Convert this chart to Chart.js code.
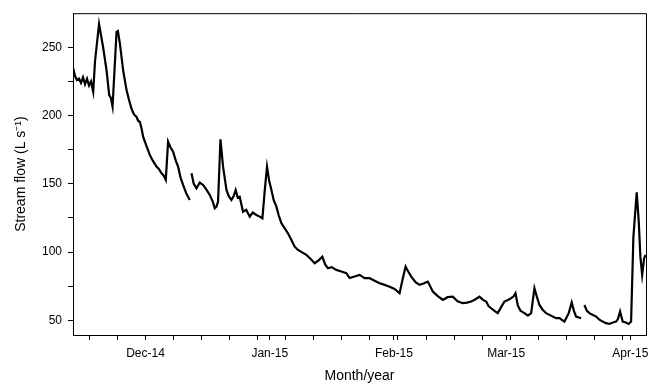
<!DOCTYPE html>
<html lang="en">
<head>
<meta charset="UTF-8">
<title>Stream flow</title>
<script src="https://cdn.jsdelivr.net/npm/chart.js"></script>
<style>
  html, body { margin: 0; padding: 0; background: #fff; }
</style>
</head>
<body>
<canvas id="myChart" width="659" height="387"></canvas>
<script>
// x = days since 1 Dec 2014 (negative = November), y = stream flow (L/s)
// null = gap in the record
const days = [
  -18.05, -17.6, -17.1, -16.6, -16.1, -15.6, -15.1, -14.6, -14.1, -13.6, -13.06,
  -12.6, -11.6, -10.6, -9.72, -9.07, -8.65, -8.23, -7.23, -6.9, -6.41, -5.58,
  -4.74, -4.16, -3.49, -2.92, -2.24, -1.8, -1.42, -1.0, -0.6, 0.2, 1.07, 1.82,
  2.74, 3.32, 3.99, 4.56, 5.06, 5.63, 6.18, 6.88, 7.55, 8.13, 8.8, 9.37, 10.17,
  11.04, 11.3, 11.47, 12.04, 12.71, 13.54, 14.36, 15.16, 16.03, 16.78, 17.28,
  17.7, 18.1, 18.7, 19.35, 20.2, 20.77, 21.44, 22.0, 22.5, 23.0, 23.5, 24.33,
  25.13, 26.0, 26.75, 27.67, 28.5, 29.17, 29.75, 30.32, 30.87, 31.42, 31.99,
  32.67, 33.23, 33.91, 34.73, 35.55, 36.4, 37.23, 38.05, 38.97, 40.14, 41.22,
  42.22, 43.2, 44.13, 44.83, 45.53, 46.45, 47.62, 48.69, 50.11, 50.93, 52.18,
  53.43, 54.67, 55.92, 57.17, 58.4, 59.66, 60.91, 62.16, 63.4, 64.15, 64.9,
  65.52, 66.32, 67.39, 68.39, 69.39, 70.45, 71.7, 72.87, 74.2, 75.37, 76.7,
  77.87, 79.19, 80.24, 81.28, 82.36, 83.35, 84.22, 85.02, 85.59, 86.26, 87.09,
  87.91, 88.71, 89.58, 90.46, 91.25, 91.83, 92.33, 92.9, 93.57, 94.57, 95.44,
  96.24, 97.06, 97.69, 98.31, 99.06, 99.98, 101.18, 102.47, 103.3, 104.54,
  105.62, 106.36, 106.91, 107.46, 108.7, 109.0, 109.53, 110.15, 110.78, 111.65,
  112.45, 113.27, 114.09, 114.89, 115.76, 116.64, 117.44, 117.89, 118.43,
  119.08, 119.88, 120.58, 121.18, 121.75, 122.58, 123.07, 123.5, 123.94,
  124.43, 124.8
];
const flow = [
  234.6, 229, 226, 227, 224, 228, 223, 227, 222, 225, 217.5,
  240, 267, 250.4, 233, 215, 213, 206.5, 261.4, 262, 253, 233,
  218.7, 212, 205, 201, 199, 196, 195.5, 190.7, 184.6, 178, 171.2, 167,
  162.6, 161, 157.8, 156, 152.9, 180.9, 177, 173.6, 167, 162.6, 154, 149.2, 143,
  138.2, null, 157.8, 150, 146.8, 151, 149.2, 146, 141.9, 137, 132.1,
  133.3, 137, 182.6, 162.6, 145.5, 141, 138.2, 141, 145.5, 140, 140.6, 129.6,
  131, 126, 129, 127.2, 126, 124.8, 145, 162.6, 152, 145.5, 138,
  133.3, 127, 121.2, 117.5, 113.8, 108.9, 104, 101.6, 100, 98, 95,
  91.9, 94, 96.7, 91, 88.2, 89, 87, 86, 84.6, 81, 82.1,
  83.3, 81, 80.9, 79, 77.2, 76, 74.7, 73, 69.9, 80, 89.4,
  86, 82.1, 78, 76, 77, 78.4, 71.1, 68, 65, 67, 67.4,
  64, 62.6, 63, 63.8, 65.5, 67.4, 65, 63.8, 60.5, 58.9, 57,
  55.3, 59.5, 63.8, 65, 66.3, 67.5, 69.9, 61, 57, 55.3, 53.5,
  55.3, 73.6, 67, 61.3, 58, 55.3, 53.5, 51.6, 51.6, 49.1,
  55.3, 63.1, 57, 52.8, 51.6, null, 61.3, 57, 55.3, 54,
  52.8, 50.5, 49.1, 48, 47.4, 48.5, 49.1, 51, 56.5,
  49.1, 48.5, 47.4, 49.1, 111, 143.8, 123.4, 96.7, 83.3,
  95.5, 98
];

const monthTicks = [0, 31, 62, 90, 121];
const monthLabels = ['Dec-14', 'Jan-15', 'Feb-15', 'Mar-15', 'Apr-15'];
const weekTicks = [-14, -7, 7, 14, 21, 28, 35, 42, 49, 56, 63, 70, 77, 84, 91, 98, 105, 112, 119];
const flowTicks = [50, 75, 100, 125, 150, 175, 200, 225, 250];

const points = days.map((d, i) => ({ x: d, y: flow[i] }));

const frame = {
  id: 'frame',
  afterDraw(chart) {
    const { ctx, chartArea: a } = chart;
    ctx.save();
    ctx.strokeStyle = '#000';
    ctx.lineWidth = 1;
    ctx.beginPath();
    ctx.moveTo(a.left, a.top + 0.5);
    ctx.lineTo(a.right + 0.5, a.top + 0.5);
    ctx.lineTo(a.right + 0.5, a.bottom);
    ctx.stroke();
    ctx.restore();
  }
};

const font = 'Liberation Sans, Arial, sans-serif';

new Chart(document.getElementById('myChart'), {
  type: 'line',
  data: {
    datasets: [{
      data: points,
      borderColor: '#000',
      borderWidth: 2.2,
      pointRadius: 0,
      tension: 0,
      spanGaps: false
    }]
  },
  options: {
    responsive: false,
    animation: false,
    layout: { padding: { left: 0, right: 13, top: 13, bottom: 0 } },
    plugins: { legend: { display: false }, tooltip: { enabled: false } },
    scales: {
      x: {
        type: 'linear',
        min: -18.1,
        max: 124.9,
        afterFit: s => { s.height = 52; },
        afterBuildTicks: s => {
          s.ticks = [...monthTicks, ...weekTicks].sort((a, b) => a - b).map(v => ({ value: v }));
        },
        ticks: {
          autoSkip: false,
          maxRotation: 0,
          padding: 6,
          color: '#000',
          font: { family: font, size: 12 },
          callback: v => {
            const k = monthTicks.indexOf(v);
            return k >= 0 ? monthLabels[k] : '';
          }
        },
        grid: { drawOnChartArea: false, drawTicks: true, tickLength: 5, tickColor: '#000' },
        border: { color: '#000', width: 1 },
        title: {
          display: true,
          text: 'Month/year',
          color: '#000',
          font: { family: font, size: 14 },
          padding: { top: 0, bottom: 2 }
        }
      },
      y: {
        min: 39.3,
        max: 275,
        afterFit: s => { s.width = 73; },
        afterBuildTicks: s => { s.ticks = flowTicks.map(v => ({ value: v })); },
        ticks: {
          autoSkip: false,
          padding: 6,
          color: '#000',
          font: { family: font, size: 12 },
          callback: v => (v % 50 === 0 ? v : '')
        },
        grid: { drawOnChartArea: false, drawTicks: true, tickLength: 5, tickColor: '#000' },
        border: { color: '#000', width: 1 },
        title: {
          display: true,
          text: 'Stream flow (L s\u207B\u00B9)',
          color: '#000',
          font: { family: font, size: 14 },
          padding: { top: 13, bottom: 0 }
        }
      }
    }
  },
  plugins: [frame]
});
</script>
</body>
</html>
